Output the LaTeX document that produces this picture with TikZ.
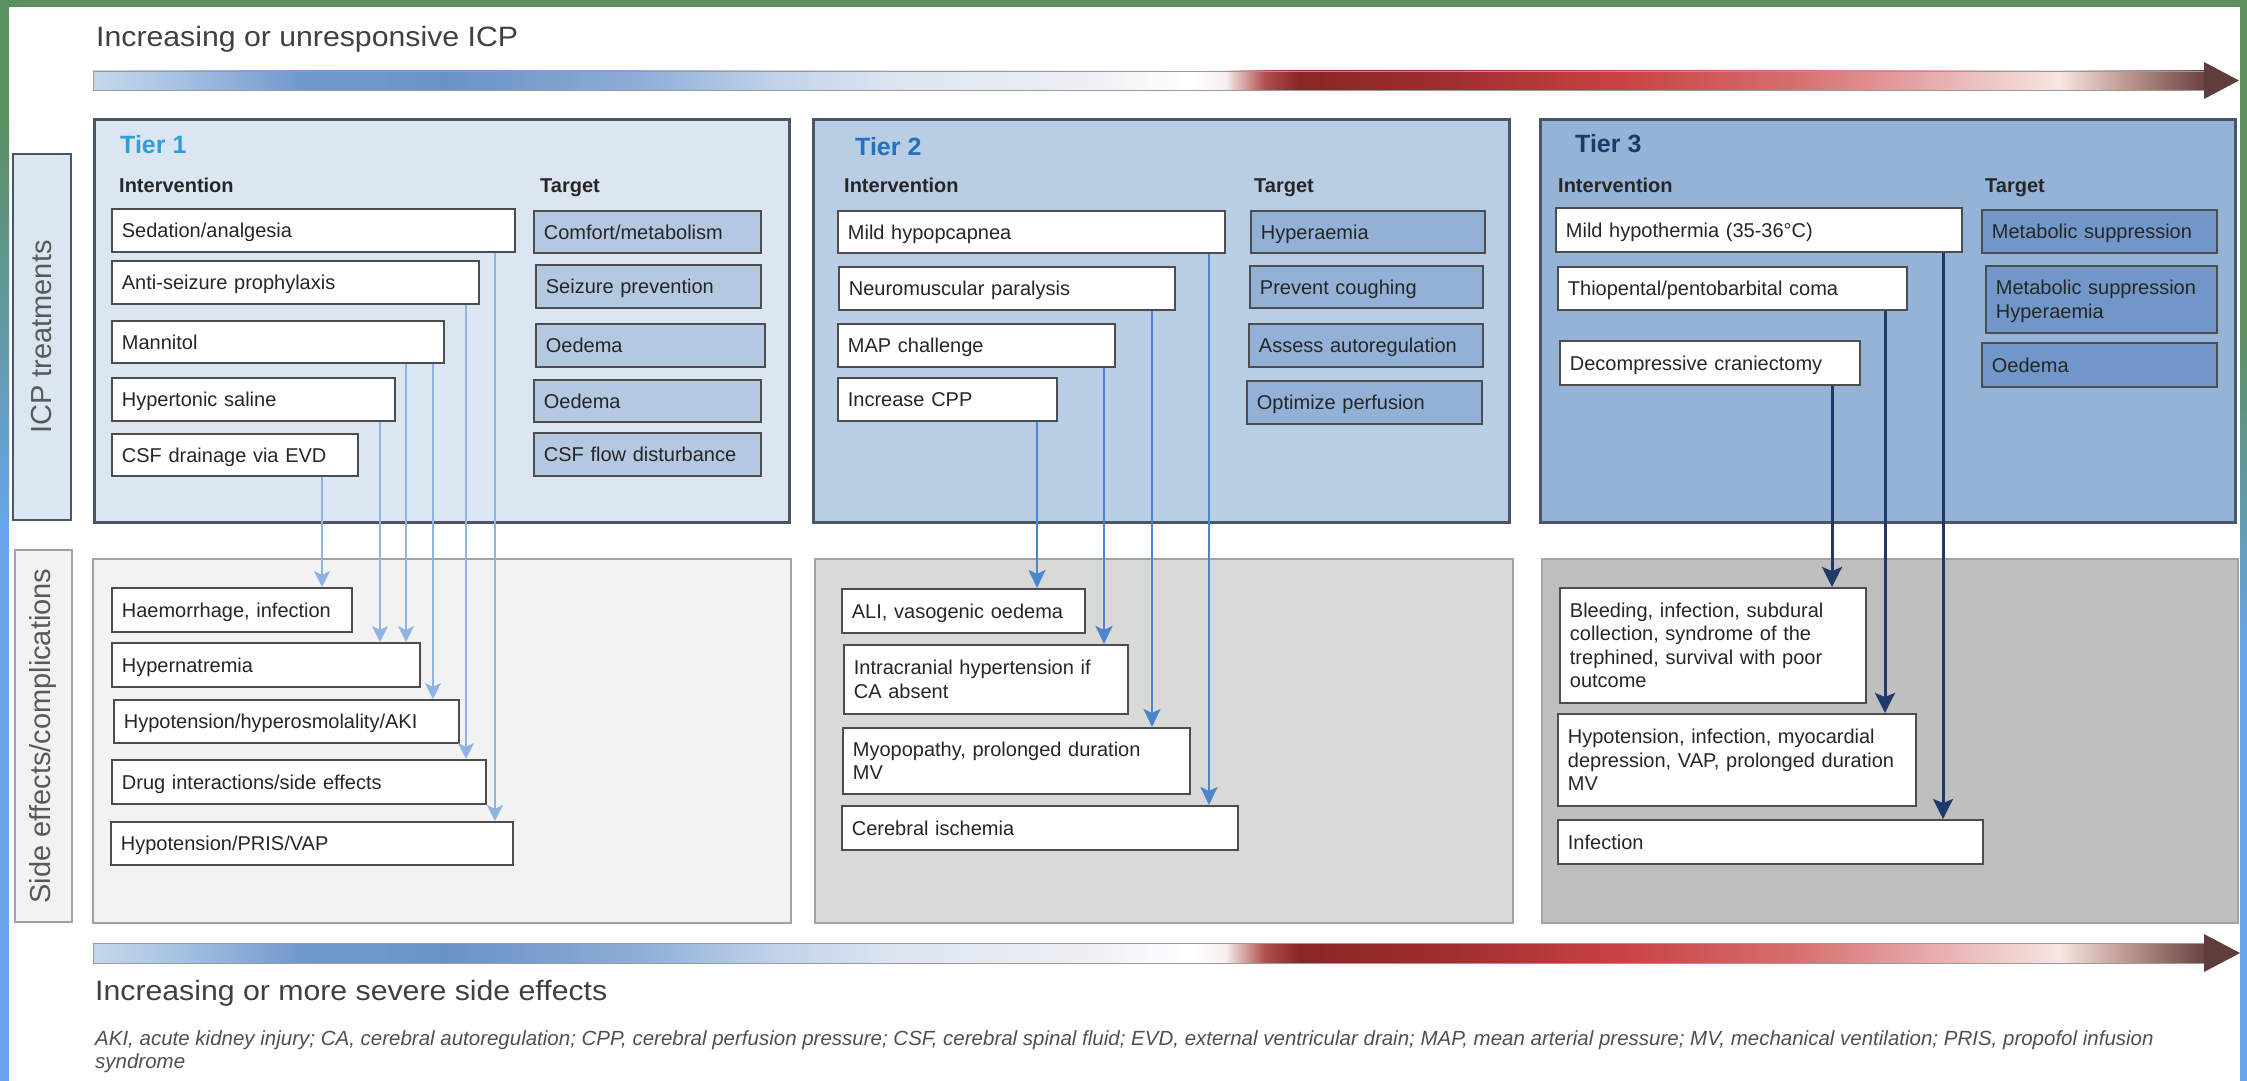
\documentclass[tikz,border=0pt]{standalone}
\usepackage{fontspec}
\setmainfont{Liberation Sans}
\newfontfamily\titlefont[FakeStretch=1.08]{Liberation Sans}
\usetikzlibrary{arrows.meta}

\definecolor{frgreen}{HTML}{5A8F5E}
\definecolor{frblue}{HTML}{68A5E8}
\definecolor{ttl}{HTML}{404040}
\definecolor{txt}{HTML}{262626}
\definecolor{panelborder}{HTML}{4A5668}
\definecolor{boxborder}{HTML}{4D4D4D}
\definecolor{tonefill}{HTML}{DCE6F2}
\definecolor{ttwofill}{HTML}{B9CDE5}
\definecolor{tthreefill}{HTML}{95B3D7}
\definecolor{tgtone}{HTML}{B4C8E2}
\definecolor{tgttwo}{HTML}{93B1D6}
\definecolor{tgtthree}{HTML}{7196C8}
\definecolor{seone}{HTML}{F2F2F2}
\definecolor{setwo}{HTML}{D9D9D9}
\definecolor{sethree}{HTML}{BFBFBF}
\definecolor{seborder}{HTML}{A3A3A3}
\definecolor{tierone}{HTML}{2E9FDB}
\definecolor{tiertwo}{HTML}{1F72C4}
\definecolor{tierthree}{HTML}{1F3A68}
\definecolor{arrone}{HTML}{8DB4E2}
\definecolor{arrtwo}{HTML}{4A86CE}
\definecolor{arrthree}{HTML}{1F3A68}
\definecolor{lblgrey}{HTML}{595959}
\definecolor{headcol}{HTML}{5E3E3C}
\definecolor{barline}{HTML}{9A9A9A}
\definecolor{footgrey}{HTML}{505050}

\definecolor{ga}{HTML}{C5D8EA}
\definecolor{gb}{HTML}{A6C2E2}
\definecolor{gc}{HTML}{7099CC}
\definecolor{gd}{HTML}{6A93C8}
\definecolor{ge}{HTML}{8DAED6}
\definecolor{gf}{HTML}{C2D4EA}
\definecolor{gg}{HTML}{DDE5F0}
\definecolor{gh}{HTML}{EEF1F5}
\definecolor{gi}{HTML}{FFFFFF}
\definecolor{gj}{HTML}{F8F0F0}
\definecolor{gk}{HTML}{B05050}
\definecolor{gl}{HTML}{8A2626}
\definecolor{gm}{HTML}{A02E2E}
\definecolor{gn}{HTML}{C94242}
\definecolor{go}{HTML}{D77070}
\definecolor{gp}{HTML}{EAB8B8}
\definecolor{gq}{HTML}{F4E6E2}
\definecolor{gr}{HTML}{C4A098}
\definecolor{gs}{HTML}{684240}

\pgfdeclarehorizontalshading{icpgrad}{100bp}{color(0bp)=(ga); color(25bp)=(ga); color(27.06bp)=(gb); color(29.9bp)=(gc); color(33.45bp)=(gd); color(37.94bp)=(ge); color(41.26bp)=(gf); color(44.1bp)=(gg); color(48.83bp)=(gh); color(50.96bp)=(gi); color(51.79bp)=(gj); color(52.73bp)=(gk); color(53.56bp)=(gl); color(57.11bp)=(gm); color(61.13bp)=(gn); color(65.39bp)=(go); color(69.18bp)=(gp); color(71.55bp)=(gq); color(72.97bp)=(gr); color(75bp)=(gs); color(100bp)=(gs)}

\newcommand\lnstrut{\rule[-4.5pt]{0pt}{23.3pt}}
\newcommand\mkpanel[6]{\pgfmathsetmacro\mypw{#4-#2}\pgfmathsetmacro\myph{#5-#3}%
  \node[#6, anchor=north west, minimum width=\mypw pt, minimum height=\myph pt, inner sep=0pt] (#1) at (#2,#3) {};}
\newcommand\mkbox[7]{\pgfmathsetmacro\mybh{#5-#3}\pgfmathsetmacro\mytw{#4-#2-20}%
  \node[#6, anchor=north west, minimum height=\mybh pt, text width=\mytw pt, inner xsep=10pt, inner ysep=0pt, align=left] (#1) at (#2,#3) {\lnstrut#7\lnstrut};}

\tikzset{
  ibox/.style={draw=boxborder, line width=1.8pt, fill=white, text=txt, font=\fontsize{20}{23.3}\selectfont},
  tbox/.style={ibox, fill=#1},
  tierpanel/.style={draw=panelborder, line width=2.5pt, fill=#1},
  sepanel/.style={draw=seborder, line width=2pt, fill=#1},
  tierhd/.style={anchor=base west, inner sep=0pt, font=\bfseries\fontsize{25}{30}\selectfont},
  colhd/.style={anchor=base west, inner sep=0pt, font=\bfseries\fontsize{20}{24}\selectfont, text=txt},
  bigttl/.style={anchor=base west, inner sep=0pt, font=\titlefont\fontsize{28}{32}\selectfont, text=ttl},
  foot/.style={anchor=base west, inner sep=0pt, font=\fontsize{20.5}{24}\selectfont\itshape, text=footgrey},
  vlabel/.style={rotate=90, inner sep=0pt, font=\fontsize{29}{33}\selectfont, text=lblgrey},
  arone/.style={draw=arrone, line width=2pt, -{Stealth[length=16pt, width=16pt, inset=4pt]}},
  artwo/.style={draw=arrtwo, line width=2.5pt, -{Stealth[length=18pt, width=17pt, inset=4pt]}},
  arthree/.style={draw=arrthree, line width=3pt, -{Stealth[length=20pt, width=20pt, inset=4pt]}},
  gradbar/.style={shading=icpgrad, draw=barline, line width=0.8pt}
}

\begin{document}
\begin{tikzpicture}[x=1pt,y=-1pt]
\useasboundingbox (0,0) rectangle (2247,1081);
\fill[white] (0,0) rectangle (2247,1081);

% frame
\fill[frgreen] (0,0) rectangle (9,121);
\shade[top color=frgreen, bottom color=frblue] (0,120) rectangle (9,520);
\fill[frblue] (0,519) rectangle (9,1081);
\fill[frgreen] (2240,0) rectangle (2247,331);
\shade[top color=frgreen, bottom color=frblue] (2240,330) rectangle (2247,650);
\fill[frblue] (2240,649) rectangle (2247,1081);
\fill[frgreen] (0,0) rectangle (2247,7);

% top title and bar
\node[bigttl] (title) at (96,47) {Increasing or unresponsive ICP};
\shade[gradbar] (93,71) rectangle (2205,90);
\fill[headcol] (2204,62) -- (2239,80.5) -- (2204,99) -- cycle;

% side labels
\node[vlabel, draw=panelborder, line width=2.5pt, fill=tonefill, minimum width=366pt, minimum height=58pt] (lab1) at (42,337) {ICP treatments};
\node[vlabel, draw=seborder, line width=2pt, fill=seone, minimum width=372pt, minimum height=57pt] (lab2) at (43.5,736) {Side effects/complications};

% panels
\mkpanel{p1}{93}{118}{788}{521}{tierpanel=tonefill}
\mkpanel{p2}{812}{118}{1508}{521}{tierpanel=ttwofill}
\mkpanel{p3}{1539}{118}{2234}{521}{tierpanel=tthreefill}
\mkpanel{s1}{92}{558}{790}{922}{sepanel=seone}
\mkpanel{s2}{814}{558}{1512}{922}{sepanel=setwo}
\mkpanel{s3}{1541}{558}{2237}{922}{sepanel=sethree}

% headings
\node[tierhd, text=tierone] (tier1) at (120,153) {Tier 1};
\node[tierhd, text=tiertwo] (tier2) at (855,155) {Tier 2};
\node[tierhd, text=tierthree] (tier3) at (1575,152) {Tier 3};
\node[colhd] (int1) at (119,192) {Intervention};
\node[colhd] (tgt1) at (540,192) {Target};
\node[colhd] (int2) at (844,192) {Intervention};
\node[colhd] (tgt2) at (1254,192) {Target};
\node[colhd] (int3) at (1558,192) {Intervention};
\node[colhd] (tgt3) at (1985,192) {Target};

% Tier 1
\mkbox{a1}{111}{208}{514}{251}{ibox}{Sedation/analgesia}
\mkbox{a2}{111}{260}{478}{303}{ibox}{Anti-seizure prophylaxis}
\mkbox{a3}{111}{320}{443}{362}{ibox}{Mannitol}
\mkbox{a4}{111}{377}{394}{420}{ibox}{Hypertonic saline}
\mkbox{a5}{111}{433}{357}{475}{ibox}{CSF drainage via EVD}
\mkbox{t1}{533}{210}{760}{252}{tbox=tgtone}{Comfort/metabolism}
\mkbox{t2}{535}{264}{760}{307}{tbox=tgtone}{Seizure prevention}
\mkbox{t3}{535}{323}{764}{366}{tbox=tgtone}{Oedema}
\mkbox{t4}{533}{379}{760}{421}{tbox=tgtone}{Oedema}
\mkbox{t5}{533}{432}{760}{475}{tbox=tgtone}{CSF flow disturbance}
\mkbox{e1}{111}{587}{351}{631}{ibox}{Haemorrhage, infection}
\mkbox{e2}{111}{642}{419}{686}{ibox}{Hypernatremia}
\mkbox{e3}{113}{699}{458}{742}{ibox}{Hypotension/hyperosmolality/AKI}
\mkbox{e4}{111}{759}{485}{803}{ibox}{Drug interactions/side effects}
\mkbox{e5}{110}{821}{512}{864}{ibox}{Hypotension/PRIS/VAP}

% Tier 2
\mkbox{b1}{837}{210}{1224}{252}{ibox}{Mild hypopcapnea}
\mkbox{b2}{838}{266}{1174}{309}{ibox}{Neuromuscular paralysis}
\mkbox{b3}{837}{323}{1114}{366}{ibox}{MAP challenge}
\mkbox{b4}{837}{377}{1056}{420}{ibox}{Increase CPP}
\mkbox{u1}{1250}{210}{1484}{252}{tbox=tgttwo}{Hyperaemia}
\mkbox{u2}{1249}{265}{1482}{307}{tbox=tgttwo}{Prevent coughing}
\mkbox{u3}{1248}{323}{1482}{366}{tbox=tgttwo}{Assess autoregulation}
\mkbox{u4}{1246}{380}{1481}{423}{tbox=tgttwo}{Optimize perfusion}
\mkbox{f1}{841}{588}{1084}{632}{ibox}{ALI, vasogenic oedema}
\mkbox{f2}{843}{644}{1127}{713}{ibox}{Intracranial hypertension if\\CA absent}
\mkbox{f3}{842}{727}{1189}{793}{ibox}{Myopopathy, prolonged duration\\MV}
\mkbox{f4}{841}{805}{1237}{849}{ibox}{Cerebral ischemia}

% Tier 3
\mkbox{c1}{1555}{207}{1961}{251}{ibox}{Mild hypothermia (35-36°C)}
\mkbox{c2}{1557}{266}{1906}{309}{ibox}{Thiopental/pentobarbital coma}
\mkbox{c3}{1559}{340}{1859}{384}{ibox}{Decompressive craniectomy}
\mkbox{v1}{1981}{209}{2216}{252}{tbox=tgtthree}{Metabolic suppression}
\mkbox{v2}{1985}{265}{2216}{332}{tbox=tgtthree}{Metabolic suppression\\Hyperaemia}
\mkbox{v3}{1981}{342}{2216}{386}{tbox=tgtthree}{Oedema}
\mkbox{g1}{1559}{587}{1865}{702}{ibox}{Bleeding, infection, subdural\\collection, syndrome of the\\trephined, survival with poor\\outcome}
\mkbox{g2}{1557}{713}{1915}{805}{ibox}{Hypotension, infection, myocardial\\depression, VAP, prolonged duration\\MV}
\mkbox{g3}{1557}{819}{1982}{863}{ibox}{Infection}

% connector x positions
\coordinate (xa) at (322,0);
\coordinate (xb) at (380,0);
\coordinate (xc) at (406,0);
\coordinate (xd) at (433,0);
\coordinate (xe) at (466,0);
\coordinate (xf) at (495,0);
\coordinate (ya) at (1037,0);
\coordinate (yb) at (1104,0);
\coordinate (yc) at (1152,0);
\coordinate (yd) at (1209,0);
\coordinate (za) at (1832,0);
\coordinate (zb) at (1885,0);
\coordinate (zc) at (1943,0);

\draw[arone] (xa |- a5.south) -- (xa |- e1.north);
\draw[arone] (xb |- a4.south) -- (xb |- e2.north);
\draw[arone] (xc |- a3.south) -- (xc |- e2.north);
\draw[arone] (xd |- a3.south) -- (xd |- e3.north);
\draw[arone] (xe |- a2.south) -- (xe |- e4.north);
\draw[arone] (xf |- a1.south) -- (xf |- e5.north);

\draw[artwo] (ya |- b4.south) -- (ya |- f1.north);
\draw[artwo] (yb |- b3.south) -- (yb |- f2.north);
\draw[artwo] (yc |- b2.south) -- (yc |- f3.north);
\draw[artwo] (yd |- b1.south) -- (yd |- f4.north);

\draw[arthree] (za |- c3.south) -- (za |- g1.north);
\draw[arthree] (zb |- c2.south) -- (zb |- g2.north);
\draw[arthree] (zc |- c1.south) -- (zc |- g3.north);

% bottom bar and labels
\shade[gradbar] (93,943) rectangle (2205,963);
\fill[headcol] (2204,934) -- (2240,953) -- (2204,972) -- cycle;
\node[bigttl] (sevttl) at (95,1000) {Increasing or more severe side effects};
\node[foot] (fn1) at (95,1045) {AKI, acute kidney injury; CA, cerebral autoregulation; CPP, cerebral perfusion pressure; CSF, cerebral spinal fluid; EVD, external ventricular drain; MAP, mean arterial pressure; MV, mechanical ventilation; PRIS, propofol infusion};
\node[foot] (fn2) at (95,1068) {syndrome};
\end{tikzpicture}
\end{document}
